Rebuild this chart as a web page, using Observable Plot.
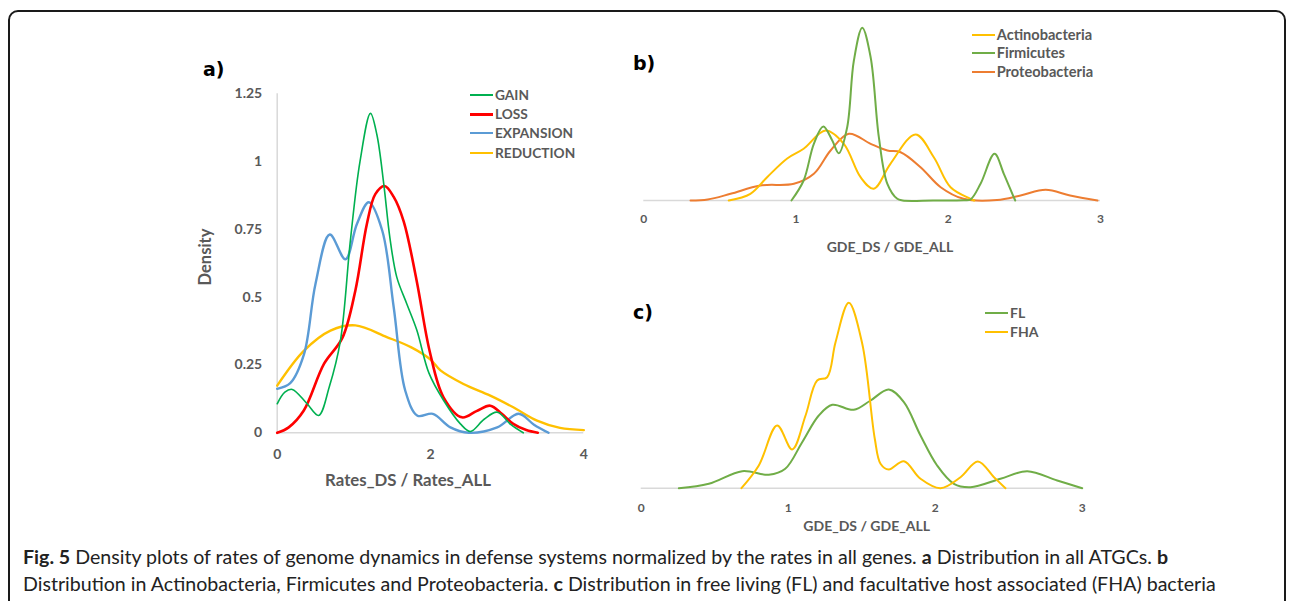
<!DOCTYPE html>
<html>
<head>
<meta charset="utf-8">
<script src="https://cdn.jsdelivr.net/npm/d3@7"></script>
<script src="https://cdn.jsdelivr.net/npm/@observablehq/plot@0.6"></script>
<style>
  html, body { margin: 0; padding: 0; background: #fff; }
  #root { position: relative; width: 1292px; height: 601px; overflow: hidden; background: #fff; }
  .abs { position: absolute; white-space: nowrap; }
  .box { position: absolute; left: 8px; top: 10px; width: 1278px; height: 640px; box-sizing: border-box;
         border: 2px solid #1a1a1a; border-radius: 10px; }
  svg { overflow: visible; }
</style>
</head>
<body>
<div id="root"><div class="box"></div></div>
<script>
// ---------- Panel a: Rates_DS / Rates_ALL densities ----------
const aXTicks = [0, 2, 4];
const aYTicks = [0, 0.25, 0.5, 0.75, 1, 1.25];
const gain = [[0,0.107],[0.1,0.15],[0.196,0.16],[0.39,0.107],[0.54,0.064],[0.68,0.17],[0.825,0.34],[0.955,0.71],[1.08,1.0],[1.217,1.178],[1.3,1.1],[1.39,0.918],[1.47,0.72],[1.56,0.574],[1.69,0.476],[1.82,0.38],[1.98,0.22],[2.17,0.12],[2.39,0.033],[2.52,0.005],[2.7,0.05],[2.87,0.076],[3.05,0.03],[3.21,0]];
const loss = [[0,0],[0.15,0.02],[0.347,0.082],[0.61,0.254],[0.85,0.35],[1.02,0.525],[1.17,0.77],[1.28,0.88],[1.40,0.91],[1.52,0.87],[1.65,0.78],[1.82,0.56],[1.99,0.30],[2.17,0.131],[2.41,0.057],[2.6,0.08],[2.78,0.10],[2.93,0.07],[3.08,0.033],[3.25,0.01],[3.40,0]];
const expansion = [[0,0.162],[0.17,0.183],[0.35,0.29],[0.5,0.55],[0.686,0.731],[0.89,0.64],[1.04,0.77],[1.195,0.85],[1.37,0.746],[1.52,0.463],[1.67,0.156],[1.83,0.063],[2.03,0.07],[2.26,0.02],[2.5,0],[2.87,0.02],[3.15,0.07],[3.35,0.03],[3.54,0]];
const reduction = [[0,0.174],[0.35,0.303],[0.695,0.377],[1.02,0.396],[1.43,0.353],[1.75,0.315],[2.0,0.27],[2.13,0.23],[2.43,0.18],[2.78,0.137],[3.08,0.094],[3.39,0.045],[3.69,0.018],[4.0,0.01]];
const aSeries = ["GAIN", "LOSS", "EXPANSION", "REDUCTION"];
const aColors = ["#00b050", "#ff0000", "#5b9bd5", "#ffc000"];

// ---------- Panel b: GDE_DS / GDE_ALL by phylum ----------
const bXTicks = [0, 1, 2, 3];
const actinobacteria = [[0.558,0],[0.70,0.134],[0.81,0.466],[0.942,0.84],[1.05,1.034],[1.194,1.40],[1.314,1.134],[1.424,0.466],[1.51,0.234],[1.62,0.734],[1.785,1.32],[1.905,0.866],[2.015,0.266],[2.146,0.034],[2.17,0]];
const firmicutes = [[0.97,0],[1.05,0.40],[1.117,1.134],[1.179,1.48],[1.238,1.2],[1.281,0.946],[1.336,1.466],[1.38,2.8],[1.435,3.454],[1.49,2.866],[1.544,1.266],[1.60,0.334],[1.665,0.034],[1.70,0],[1.9,0],[2.1,0.005],[2.146,0.02],[2.212,0.334],[2.304,0.934],[2.365,0.534],[2.43,0.066],[2.44,0]];
const proteobacteria = [[0.307,0],[0.42,0.02],[0.57,0.134],[0.766,0.30],[0.986,0.334],[1.117,0.534],[1.227,1.0],[1.347,1.334],[1.49,1.134],[1.6,1.0],[1.687,0.966],[1.818,0.666],[1.95,0.266],[2.10,0.034],[2.32,0.01],[2.475,0.10],[2.64,0.214],[2.80,0.10],[2.98,0]];
const bSeries = ["Actinobacteria", "Firmicutes", "Proteobacteria"];
const bColors = ["#ffc000", "#70ad47", "#ed7d31"];

// ---------- Panel c: free living vs facultative host associated ----------
const cXTicks = [0, 1, 2, 3];
const fl = [[0.256,0],[0.46,0.088],[0.687,0.34],[0.868,0.268],[0.98,0.388],[1.095,0.92],[1.208,1.454],[1.30,1.668],[1.446,1.568],[1.56,1.754],[1.684,1.974],[1.787,1.72],[1.90,1.054],[2.013,0.454],[2.127,0.088],[2.24,0.02],[2.444,0.188],[2.626,0.34],[2.83,0.154],[3.0,0]];
const fha = [[0.682,0],[0.80,0.454],[0.925,1.254],[1.027,0.774],[1.118,1.454],[1.197,2.154],[1.265,2.22],[1.322,2.92],[1.412,3.708],[1.503,2.9],[1.589,0.99],[1.628,0.49],[1.684,0.374],[1.787,0.54],[1.90,0.188],[2.036,0],[2.172,0.22],[2.29,0.534],[2.40,0.22],[2.478,0]];
const cSeries = ["FL", "FHA"];
const cColors = ["#70ad47", "#ffc000"];

const root = document.getElementById("root");
const GRAY = "#595959", AXIS = "#d9d9d9";

function place(el, left, top) {
  el.style.position = "absolute"; el.style.left = left + "px"; el.style.top = top + "px";
  root.appendChild(el);
}
function text(str, x, cy, o = {}) {
  const d = document.createElement("div");
  d.className = "abs";
  const fs = o.size || 13;
  d.style.fontFamily = o.family || "Lato, sans-serif";
  d.style.fontSize = fs + "px";
  d.style.lineHeight = fs + "px";
  d.style.fontWeight = o.weight || "bold";
  d.style.color = o.color || GRAY;
  d.innerHTML = str;
  const tx = o.anchor === "middle" ? "-50%" : "0";
  d.style.transform = `translate(${tx}, -50%)` + (o.rotate ? ` rotate(${o.rotate}deg)` : "");
  d.style.left = x + "px"; d.style.top = cy + "px";
  root.appendChild(d);
  return d;
}
function legend(names, colors, widths, x0, x1, ys, tx, size) {
  names.forEach((n, i) => {
    const s = document.createElement("div");
    s.className = "abs";
    s.style.left = x0 + "px"; s.style.width = (x1 - x0) + "px";
    s.style.height = widths[i] + "px"; s.style.top = (ys[i] - widths[i] / 2) + "px";
    s.style.background = colors[i];
    root.appendChild(s);
    text(n, tx, ys[i], {size});
  });
}
const line = (data, color, w) => Plot.line(data, {x: d => d[0], y: d => d[1], stroke: color, strokeWidth: w, curve: "catmull-rom"});
const fmt = d => String(d);

// Panel a
const aW = [1.6, 2.6, 2.4, 2.4];
const plotA = Plot.plot({
  width: 420, height: 420,
  marginLeft: 96.7, marginRight: 16.7, marginTop: 13.3, marginBottom: 67.7,
  style: {fontFamily: "Lato, sans-serif", fontSize: "14px", fontWeight: "bold", color: GRAY, background: "transparent"},
  x: {domain: [0, 4], ticks: aXTicks, tickSize: 0, tickPadding: 16, label: null, tickFormat: fmt},
  y: {domain: [0, 1.25], ticks: aYTicks, tickSize: 0, tickPadding: 15, label: null, tickFormat: fmt},
  marks: [
    Plot.ruleX([0], {stroke: AXIS, strokeWidth: 1.5}),
    Plot.ruleY([0], {stroke: AXIS, strokeWidth: 1.5}),
    line(reduction, aColors[3], aW[3]),
    line(expansion, aColors[2], aW[2]),
    line(loss, aColors[1], aW[1]),
    line(gain, aColors[0], aW[0])
  ]
});
place(plotA, 180, 80);

// Panel b
const plotB = Plot.plot({
  width: 500, height: 260,
  marginLeft: 23.3, marginRight: 20, marginTop: 10, marginBottom: 70,
  style: {fontFamily: "Lato, sans-serif", fontSize: "12px", fontWeight: "bold", color: GRAY, background: "transparent"},
  x: {domain: [0, 3], ticks: bXTicks, tickSize: 0, tickPadding: 14, label: null, tickFormat: fmt},
  y: {domain: [0, 3.6], axis: null},
  marks: [
    Plot.ruleY([0], {stroke: AXIS, strokeWidth: 1.5}),
    line(proteobacteria, bColors[2], 2),
    line(actinobacteria, bColors[0], 2),
    line(firmicutes, bColors[1], 2)
  ]
});
place(plotB, 620, 10);

// Panel c
const plotC = Plot.plot({
  width: 500, height: 270,
  marginLeft: 20.7, marginRight: 38.3, marginTop: 12.7, marginBottom: 62.3,
  style: {fontFamily: "Lato, sans-serif", fontSize: "12px", fontWeight: "bold", color: GRAY, background: "transparent"},
  x: {domain: [0, 3], ticks: cXTicks, tickSize: 0, tickPadding: 15, label: null, tickFormat: fmt},
  y: {domain: [0, 3.9], axis: null},
  marks: [
    Plot.ruleY([0], {stroke: AXIS, strokeWidth: 1.5}),
    line(fl, cColors[0], 2),
    line(fha, cColors[1], 2)
  ]
});
place(plotC, 620, 280);

// Panel letters
const L = {family: "'DejaVu Sans', sans-serif", size: 19, color: "#000"};
text("a)", 203, 69, L);
text("b)", 633, 63, L);
text("c)", 633, 312, L);

// Axis titles
text("Rates_DS / Rates_ALL", 408, 480, {size: 16.8, anchor: "middle"});
text("Density", 205, 257, {size: 16.5, anchor: "middle", rotate: -90});
text("GDE_DS / GDE_ALL", 890, 246.5, {size: 14, anchor: "middle"});
text("GDE_DS / GDE_ALL", 866.7, 525.5, {size: 14, anchor: "middle"});

// Legends
legend(aSeries, aColors, aW, 470, 493, [95, 114.3, 133.3, 153.3], 495, 13.7);
legend(bSeries, bColors, [2, 2, 2], 971.7, 995, [35, 53.3, 72.3], 996.7, 14.6);
legend(cSeries, cColors, [2, 2], 985, 1008, [312.7, 331.7], 1010, 14);

// Caption
const cap = {family: "Lato, sans-serif", size: 19.6, weight: "normal", color: "#222"};
text("<b>Fig. 5</b> Density plots of rates of genome dynamics in defense systems normalized by the rates in all genes. <b>a</b> Distribution in all ATGCs. <b>b</b>", 23, 557, cap);
text("Distribution in Actinobacteria, Firmicutes and Proteobacteria. <b>c</b> Distribution in free living (FL) and facultative host associated (FHA) bacteria", 23, 584, cap);
</script>
</body>
</html>
